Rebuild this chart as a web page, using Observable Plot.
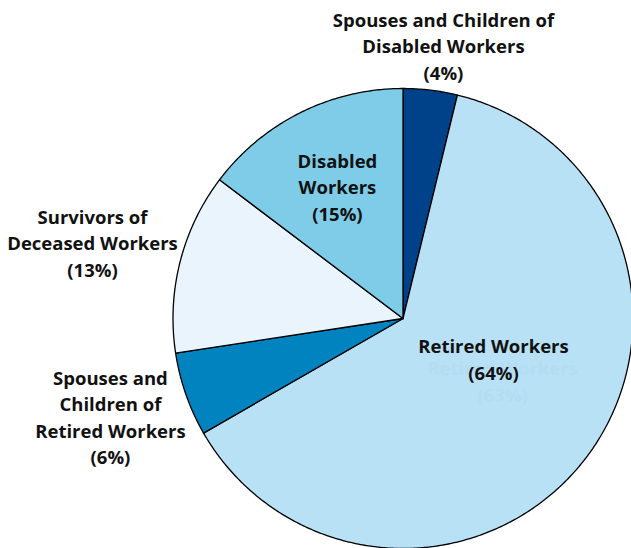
<!DOCTYPE html>
<html>
<head>
<meta charset="utf-8">
<script src="https://cdn.jsdelivr.net/npm/d3@7"></script>
<script src="https://cdn.jsdelivr.net/npm/@observablehq/plot@0.6"></script>
<style>
  html, body { margin: 0; padding: 0; background: #fff; }
  #chart { width: 631px; height: 548px; overflow: hidden; }
</style>
</head>
<body>
<div id="chart"></div>
<script>
// ---- data ----
const categories = [
  "Spouses and Children of Disabled Workers",
  "Retired Workers",
  "Spouses and Children of Retired Workers",
  "Survivors of Deceased Workers",
  "Disabled Workers"
];
const shares = [3.8, 62.9, 5.9, 12.7, 14.7];
const labelTexts = [
  "Spouses and Children of\nDisabled Workers\n(4%)",
  "Retired Workers\n(64%)",
  "Spouses and\nChildren of\nRetired Workers\n(6%)",
  "Survivors of\nDeceased Workers\n(13%)",
  "Disabled\nWorkers\n(15%)"
];
const ghostText = "Retired Workers\n(63%)";
const sliceColors = ["#00428a", "#b8e1f6", "#0083bf", "#e9f4fc", "#7fcce9"];

// ---- layout (pie in unit-radius coordinates, y up) ----
const W = 631, H = 548, R = 230, CX = 402.5, CY = 318;
const labelPos = [
  [0.176, 1.19],
  [0.3935, -0.172],
  [-1.272, -0.424],
  [-1.35, 0.334],
  [-0.285, 0.576]
];
const ghostPos = [0.433, -0.268];

const arcs = d3.pie().sort(null).value(d => d)(shares);
const polys = arcs.map((a, i) => {
  const pts = [{x: 0, y: 0}];
  const n = Math.max(2, Math.ceil((a.endAngle - a.startAngle) / (Math.PI / 360)));
  for (let k = 0; k <= n; k++) {
    const t = a.startAngle + (a.endAngle - a.startAngle) * k / n;
    pts.push({x: Math.sin(t), y: Math.cos(t)});
  }
  pts.push({x: 0, y: 0});
  return {name: categories[i], color: sliceColors[i], pts};
});

const labels = categories.map((c, i) => ({name: c, text: labelTexts[i], x: labelPos[i][0], y: labelPos[i][1]}));

const font = "'Open Sans', 'DejaVu Sans', sans-serif";

const chart = Plot.plot({
  width: W,
  height: H,
  margin: 0,
  style: {background: "#fff", overflow: "hidden"},
  x: {domain: [-CX / R, (W - CX) / R], axis: null},
  y: {domain: [-(H - CY) / R, CY / R], axis: null},
  marks: [
    ...polys.map(p => Plot.line(p.pts, {
      x: "x", y: "y", curve: "linear",
      fill: p.color, stroke: "#000", strokeWidth: 1.3, strokeLinejoin: "round"
    })),
    Plot.text([{x: ghostPos[0], y: ghostPos[1], text: ghostText}], {
      x: "x", y: "y", text: "text", fill: "#b2ddf3",
      fontSize: 18.5, fontWeight: 700, fontFamily: font, lineHeight: 1.45
    }),
    Plot.text(labels, {
      x: "x", y: "y", text: "text", fill: "#111",
      fontSize: 18.5, fontWeight: 700, fontFamily: font, lineHeight: 1.43
    })
  ]
});
document.getElementById("chart").appendChild(chart);
</script>
</body>
</html>
